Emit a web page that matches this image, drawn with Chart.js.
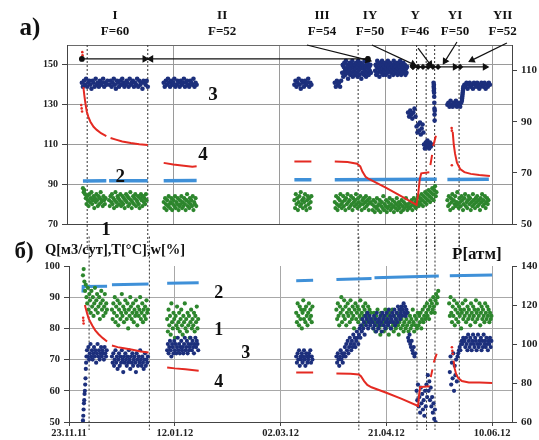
<!DOCTYPE html>
<html><head><meta charset="utf-8">
<script src="https://cdn.jsdelivr.net/npm/chart.js@4.4.0/dist/chart.umd.min.js"></script>
<style>
html,body{margin:0;padding:0;background:#fff;}
#wrap{position:relative;width:539px;height:440px;overflow:hidden;background:#fff;}
canvas{position:absolute;left:0;}
#cTop{top:0;}
#cBot{top:236px;}
</style></head><body>
<div id="wrap"><canvas id="cTop" width="539" height="250"></canvas><canvas id="cBot" width="539" height="204"></canvas></div>
<script>
// ---------- x axis (days since 23.11.11) ----------
const dateTickDays = [0, 50, 100, 150, 200];
const dateLabels = ['23.11.11', '12.01.12', '02.03.12', '21.04.12', '10.06.12'];
const X_MAX = 209.4;
const topLeftTicks = [70, 90, 110, 130, 150, 160];
const topRightTicks = [50, 70, 90, 110, 120];
const botLeftTicks = [50, 60, 70, 80, 90, 100];
const botRightTicks = [60, 80, 100, 120, 140];
const phaseRoman = ['I', 'II', 'III', 'IY', 'Y', 'YI', 'YII'];
const phaseF = ['F=60', 'F=52', 'F=54', 'F=50', 'F=46', 'F=50', 'F=52'];
const phaseLabelDays = [22.6, 73, 120, 142.6, 163.8, 182.6, 205];
const dividerDays = [9.5, 38, 137, 164.5, 169, 173, 184.5];

// ---------- arrows of the phases (top panel, left axis) ----------
const spanRowVals = [153, 149];
const spanRow1 = [[7, 36.6], [39.5, 141.6]];
const spanRow2 = [[162.8, 182.6], [185, 196.7]];
const spanRow2Marks = [162.8, 165.2, 167.5, 169.9, 172.2, 174.6];
const pointerFromDays = [112.9, 143.5, 165.2, 183.5, 207];
const pointerFromVals = [160, 160, 158.4, 161.5, 161];
const pointerToDays = [141.6, 162.8, 170.8, 177.9, 190.6];
const pointerToVals = [152.4, 150.4, 150.4, 151.9, 152.4];

// ---------- top panel a) ----------
const topGreenSegs = [
 [7.5, 1/3, [88,86,87,85,83,80,84,82,79,85,81,83,86,80,82,84,78,83,81,85,82,79,84,80,83,86,81,82,79,84,82,80,83]],
 [19.8, 1/3, [82,79,84,81,85,80,83,78,82,86,81,79,84,83,80,82,85,79,81,84,80,83,78,82,85,81,84,79,83,80,86,82,78,81,84,80,83,85,79,82,81,84,80,78,83,85,82,79,84,81,83,80,85,82]],
 [45.5, 1/3, [81,78,83,80,77,82,79,84,80,78,81,83,77,80,82,79,84,78,81,80,83,77,79,82,80,84,78,81,79,83,80,77,82,85,79,81,78,83,80,82,79,84,77,81,80,83,79]],
 [107, 1/3, [82,78,85,80,83,77,81,84,79,86,80,82,78,83,81,85,79,77,82,84,80,83,78,81,84]],
 [126, 1/3, [81,78,84,80,77,83,79,82,85,80,78,81,84,79,82,77,83,80,85,81,78,82,79,84,80,77,83,81,79,82,85,80,78,83,81,79,84,80,77,82,80,83,78,81,84,79,82,80,77,83,81]],
 [143.5, 1/3, [80,77,82,79,76,81,78,83,79,77,80,82,76,79,81,78,84,77,80,79,82,76,78,81,79,83,77,80,78,82,79,76,81,78,80,83,77,79,81,78,80,76,82,79,77,81,78,80,83,79,77,80,78]],
 [161.2, 1/3, [78,81,79,82,77,80,83,79,81,78,82,80,84,79,81,83,80,85,82,79,84,81,86,83,80,85,82,87,84,81,86,83,88,85,82,87,89,84,86]],
 [179, 1/3, [82,79,84,80,77,83,81,85,78,82,80,84,79,81,86,80,78,83,81,79,84,82,77,80,83,85,79,81,78,82,84,80,83,77,81,79,85,82,80,78,83,81,84,79,82,80,77,83,81,85,79,82,80,84,78,81,83,80,82]]
];
const topNavySegs = [
 [7, 0.5, [141,139,142,140,143,139,141,142,140,138,142,141,139,143,140,141,139,142,140,141,143,139,141,140,142]],
 [20, 0.5, [140,142,139,141,143,140,138,142,141,139,142,140,143,141,139,140,142,141,139,143,140,141,142,139,141,140,143,139,142,140,141,138,142,141,140,142,139]],
 [45.5, 0.5, [141,139,142,140,143,141,139,142,140,141,143,139,140,142,141,139,142,140,141,143,139,141,142,140,139,142,141,140,143,139,141,140]],
 [107, 0.5, [140,142,139,141,143,140,138,142,141,139,142,140,141,143,139,141,140]],
 [126, 0.5, [141,139,142,140,141,139,142]],
 [129.5, 0.25, [146,150,144,149,151,147,145,152,148,146,150,143,149,147,151,145,148,150,146,152,144,149,147,150,145,148,151,146,149,144,152,147,150,145,148,151,143,149,146,150,148,145,152,147,149,144,150,146,151,148,145,149,147,150,146]],
 [145, 0.25, [147,150,145,149,152,146,148,151,144,149,147,150,146,152,148,145,150,147,149,151,145,148,150,146,152,147,149,144,151,148,146,150,147,149,145,152,148,150,146,149,147,151,145,148,150,146,149,152,147,145,150,148,146,151,149,147,150,145,148,146,149]],
 [160.5, 0.5, [126,124,127,125,123,126,128,124]],
 [164.5, 0.4, [119,116,120,117,121,115,118,120,116]],
 [168, 0.4, [110,108,111,109,112,110,108,111,109,110]],
 [172.5, 0.05, [141,139,137,140,138,136,134,131,128,125,122,127]],
 [179, 0.5, [130,131,129,132,130,129,131,130,132,129,131,130,129,131]],
 [185.8, 0.1, [132,133,134,135,136,137,138,139]],
 [187, 0.5, [140,139,141,138,140,141,139,140,138,141,140,139,141,140,138,139,141,140,139,141,138,140,139,141,140]]
];
const topBlueDays = [7.5,18.5,19.2,19.8,38,42,45.5,61,84,107,115,120,126,174,176,179,198.5];
const topBlueVals = [91.6,91.7,null,91.7,91.8,null,91.8,91.9,null,92.2,92.2,null,92.3,92.5,null,92.4,92.5];
const topRedDays = [7.7,8.2,8.7,9.3,10,11,12.5,14,16,18.5,19.3,20.5,23,26,30,34,38,42,45.5,50,55,59,61,84,107,115,120,126,132,136.5,138,139,140.5,142,150,157,164.5,165.3,166,166.7,170.5,170.8,171,171.8,172.1,172.3,173.6,177,181.5,182,182.6,183.5,185,187,190,194,199];
const topRedVals = [103.5,100,97,94,92,90,88,86.8,85.5,84.4,null,83.6,83,82.3,81.7,81.2,80.9,null,73.9,73.3,72.8,72.4,72.6,null,74.4,74.4,null,74.4,74.2,73.6,72.5,70.5,68.5,67.6,64.2,61,57.5,62,67.5,69.8,70.2,null,73,77,null,80.5,84.5,null,86,81,77.5,74,71.5,70.3,69.6,69.2,68.8];
const topRedDotDays = [6.7,6.9,7.1,7.2,7.3,181,181.1,181.1];
const topRedDotVals = [96.5,95.2,94,117.2,116,87.5,86.5,73];
const topTagText = ['1', '2', '3', '4'];
const topTagDays = [18.4, 25, 68.7, 64];
const topTagVals = [67, 93.6, 134.8, 104.7];

// ---------- bottom panel б) ----------
const botGreenSegs = [
 [6.6, 1/3, [97,99,95,92,94,90,88,93,86,91,89,85,92,87,90,84,88,93,86,89,91,85,87,90,83,88,92,86,89,84,87,91,85,88,86]],
 [20.3, 1/3, [86,83,88,85,90,82,87,84,89,81,86,88,83,85,91,84,87,82,86,89,85,83,88,80,86,84,90,87,83,85,88,82,86,84,89,85,81,87,84,86,90,83,85,88,82,86,84,87,83,89,85,86]],
 [46.4, 1/3, [83,79,86,81,84,78,88,82,80,85,83,77,84,81,87,80,82,85,79,83,86,81,78,84,82,88,80,83,79,85,81,84,77,82,86,80,83,81,85,79,84,82,87,80,83]],
 [107.4, 1/3, [85,82,88,84,81,87,83,86,80,85,89,83,86,82,87,84,81,85,88,83,86,84,82,87]],
 [126.4, 1/3, [86,83,88,84,81,87,85,90,82,86,84,89,83,87,81,85,88,84,86,82,89,85,83,87,84,80,86,88,83,85,87,82,86,84,89,83,85,81,87,84,86,88,82,85,83,87,84,86,82,85]],
 [143.5, 1/3, [83,80,85,82,79,84,81,86,82,80,83,78,85,81,84,82,79,83,86,80,82,84,81,78,85,83,80,82,86,81,79,84,82,80,83,85,81,78,82,84,80,83,86,81,79,82,84,80,83,81,85,79,82,84,80,83,81,86,82,79,84,81,83,80,85]],
 [165.2, 1/3, [81,84,82,85,80,83,86,82,84,87,83,85,88,84,86,83,87,89,85,88,86,90,87,85,89,91,88,90,92]],
 [179.7, 1/3, [88,84,90,85,82,87,84,89,81,86,83,88,85,82,87,84,86,80,85,88,83,86,84,89,82,85,87,83,86,84,81,88,85,83,87,84,86,82,89,85,83,86,84,88,81,85,87,83,86,84,82,88,85,83,87,84,86,82,85,83,84]]
];
const botNavySegs = [
 [6.6, 0.15, [50.5,52,54,56,57,59,60,62,64,67,69,71]],
 [8.5, 1/3, [73,71,74,70,72,75,71,73,70,72,74,71,73,69,72,75,71,73,70,72,74,71,73,72,70,74,72,71,73]],
 [20.3, 1/3, [71,69,72,68,70,73,69,71,67,70,72,68,71,69,73,70,66,71,69,72,70,68,71,69,73,70,67,71,69,72,68,70,71,69,66,72,70,68,71,69,73,70,68,71,69,67,70,72,68,70,69,71]],
 [46.4, 1/3, [73,75,72,74,76,73,71,75,74,72,76,73,75,72,74,77,73,75,72,74,76,73,74,72,75,77,73,74,76,72,75,73,74,77,75,73,76,74,72,75,77,74,76,75,73]],
 [107.4, 1/3, [71,69,72,70,73,68,71,70,72,69,71,73,70,68,72,71,69,70,72,71,73,69,71,70]],
 [126.4, 1/3, [71,69,72,70,68,71,73,70,72,69,71,72,74,71,75,73,76,72,74,77,75,73,76,74,78,75,77,74,76,79,77,75,78,80,77,81,79,83,80,82,78,84,81,83,85,80,82,84,81,83]],
 [143.5, 1/3, [82,80,84,81,83,79,85,82,80,83,81,84,82,79,85,83,81,84,80,82,85,83,81,86,82,84,80,83,85,82,84,86,81,83,85,82,87,84,86,83,85,87,84,86,88,85,87,84,86,85]],
 [160.3, 1/3, [77,76,78,75,74,76,73,72,74,71,72]],
 [164.3, 1/3, [60,57,62,55,58,53,61,56,59,54,57,52,60,55,62,58,65,60,63,57,61,55,58,53,56,51,54,50]],
 [180, 1/3, [66,71,62,69,64,72,60,68,65,70,63,71]],
 [184, 1/3, [72,73,74,73,75,76,75,77,76]],
 [187, 1/3, [76,74,77,75,73,78,76,74,77,75,73,76,78,75,74,77,76,73,75,78,74,76,75,77,73,76,74,78,75,76,74,77,75,73,76,75,77,74,76]]
];
const botBlueDays = [6.6,6.7,18,19,20.3,37.6,42,46.4,61.3,84,107.4,115.4,120,126.4,143,143.7,144.4,174.8,177,180,200];
const botBlueVals = [91.5,93.4,93.5,null,94.0,94.2,null,94.5,94.6,null,95.3,95.4,null,95.7,96.0,null,96.2,96.8,null,96.9,97.1];
const botRedDays = [7.5,8.0,8.6,9.3,10,11,12.4,14,16,18,19.2,20.3,23,26,30,34,37.6,42,46.4,50,55,61.3,84,107.4,115.4,120,126.4,133,137,138,139.5,141,143,150,157,165,165.5,166,166.5,170.5,170.8,171,171.8,172.1,172.4,173.8,177,181.8,182.3,183,184,185.7,189,194,200];
const botRedVals = [120,118,115.5,113,111.5,109.5,107,105,103,101.3,null,99.2,98.4,97.8,97,96.2,95.7,null,88,87.5,87,86.3,null,85.4,85.4,null,84.9,84.8,84.4,83.5,81,79,77.8,75,72,68.2,74,78,78,78.3,null,83,87,null,90.5,95,null,91.5,87.5,84.5,82.5,81,80.3,80.2,80];
const botRedDotDays = [6.7,6.8,6.9,181,181.2,181.4];
const botRedDotVals = [113.5,112,110.5,98.3,96.5,95];
const botTagText = ['2', '1', '3', '4'];
const botTagDays = [70.8, 70.8, 83.6, 70.8];
const botTagVals = [91.3, 79.5, 72.1, 62.8];

// ---------- styling ----------
const NAVY = '#1c2f7c', GREEN = '#2d862d', BLUE = '#3f90d8', RED = '#e42a22';
const SERIF = "'Liberation Serif','Times New Roman',serif";
const CLEAR = 'rgba(0,0,0,0)';
Chart.defaults.font.family = SERIF;
Chart.defaults.font.weight = 'bold';
Chart.defaults.color = '#222';

function cloud(segs) {
  const pts = [];
  segs.forEach(([start, step, vals]) => vals.forEach((v, i) => pts.push({x: start + i * step, y: v})));
  return pts;
}
function pairs(days, vals) { return days.map((d, i) => ({x: d, y: vals[i]})); }
function fixedTicks(list) { return s => { s.ticks = list.map(v => ({value: v})); }; }
function isVal(c, v) { return c.tick && Math.abs(c.tick.value - v) < 1e-6; }

function cloudDs(data, color, axis, order, r) {
  return {data, backgroundColor: color, borderWidth: 0, pointRadius: r || 2.1, pointStyle: 'circle', yAxisID: axis, order};
}
function lineDs(data, color, width, axis, order) {
  return {data, showLine: true, borderColor: color, borderWidth: width, pointRadius: 0, yAxisID: axis, order, spanGaps: false};
}
function dividerDs(day, top, bottom, axis) {
  return {data: [{x: day, y: top}, {x: day, y: bottom}], showLine: true, borderColor: '#333', borderWidth: 1,
    borderDash: [2, 2], pointRadius: 0, yAxisID: axis, clip: false, order: 20};
}
function arrowDs(data, styles, radii, rotations) {
  return {data, showLine: true, borderColor: '#111', borderWidth: 1.2, backgroundColor: '#111', pointBorderColor: '#111',
    pointStyle: styles, pointRadius: radii, pointRotation: rotations, yAxisID: 'y', clip: false, order: 0};
}
function pointerRotation(c) {
  const d = c.dataset.data, xs = c.chart.scales.x, ys = c.chart.scales.y;
  const dx = xs.getPixelForValue(d[1].x) - xs.getPixelForValue(d[0].x);
  const dy = ys.getPixelForValue(d[1].y) - ys.getPixelForValue(d[0].y);
  return Math.atan2(dy, dx) * 180 / Math.PI + 90;
}

// ---------- top chart ----------
const topSets = [];
topSets.push(cloudDs(cloud(topGreenSegs), GREEN, 'y', 5));
topSets.push(lineDs(pairs(topBlueDays, topBlueVals), BLUE, 3.5, 'y', 4));
topSets.push(cloudDs(cloud(topNavySegs), NAVY, 'y', 3, 2.3));
topSets.push(lineDs(pairs(topRedDays, topRedVals), RED, 2, 'y2', 2));
topSets.push(cloudDs(pairs(topRedDotDays, topRedDotVals), RED, 'y2', 2, 1.3));
dividerDays.forEach(d => topSets.push(dividerDs(d, 160, 54, 'y')));
topSets.push(arrowDs(spanRow1[0].map(d => ({x: d, y: spanRowVals[0]})), ['circle', 'triangle'], [2.3, 3.3], [0, 90]));
topSets.push(arrowDs(spanRow1[1].map(d => ({x: d, y: spanRowVals[0]})), ['triangle', 'circle'], [3.3, 2.3], [-90, 0]));
topSets.push(arrowDs(spanRow2[0].map(d => ({x: d, y: spanRowVals[1]})), ['rectRot', 'triangle'], [2.2, 3.2], [0, 90]));
topSets.push(arrowDs(spanRow2[1].map(d => ({x: d, y: spanRowVals[1]})), ['rectRot', 'triangle'], [2.2, 3.2], [0, 90]));
topSets.push(Object.assign(arrowDs(spanRow2Marks.map(d => ({x: d, y: spanRowVals[1]})), 'rectRot', 2.2, 0), {showLine: false}));
pointerFromDays.forEach((d, i) => {
  topSets.push(arrowDs([{x: d, y: pointerFromVals[i]}, {x: pointerToDays[i], y: pointerToVals[i]}],
    'triangle', [0, 3.2], pointerRotation));
});

const topTextPlugin = {
  id: 'topText',
  afterDraw(chart) {
    const ctx = chart.ctx, xs = chart.scales.x, ys = chart.scales.y;
    ctx.save();
    ctx.fillStyle = '#111';
    ctx.textAlign = 'center';
    ctx.textBaseline = 'middle';
    ctx.font = 'bold 25px ' + SERIF;
    ctx.fillText('а)', 30, 29);
    ctx.font = 'bold 13px ' + SERIF;
    phaseLabelDays.forEach((d, i) => {
      const x = xs.getPixelForValue(d);
      ctx.fillText(phaseRoman[i], x, 16);
      ctx.fillText(phaseF[i], x, 32);
    });
    ctx.font = 'bold 19px ' + SERIF;
    topTagText.forEach((t, i) => ctx.fillText(t, xs.getPixelForValue(topTagDays[i]), ys.getPixelForValue(topTagVals[i])));
    ctx.restore();
  }
};

new Chart(document.getElementById('cTop'), {
  type: 'scatter',
  data: {datasets: topSets},
  options: {
    responsive: false, animation: false, events: [], devicePixelRatio: 1,
    layout: {padding: {top: 45, left: 0, right: 0, bottom: 0}, autoPadding: false},
    plugins: {legend: {display: false}, tooltip: {enabled: false}},
    scales: {
      x: {type: 'linear', min: 0, max: X_MAX, afterBuildTicks: fixedTicks(dateTickDays.concat([X_MAX])),
        ticks: {display: false},
        grid: {color: c => (isVal(c, 0) || isVal(c, X_MAX) ? CLEAR : '#9a9a9a'), drawTicks: false},
        border: {display: true, color: '#444'},
        afterFit: s => { s.height = 26; }},
      y: {type: 'linear', position: 'left', min: 70, max: 160, afterBuildTicks: fixedTicks(topLeftTicks),
        ticks: {padding: 4, font: {size: 10, weight: 'bold'}, callback: v => (v === 160 ? '' : v)},
        grid: {color: c => (isVal(c, 160) ? '#6a6a6a' : isVal(c, 70) ? CLEAR : '#9a9a9a'), tickLength: 5,
          tickColor: c => (isVal(c, 160) ? CLEAR : '#444')},
        border: {display: true, color: '#444'},
        afterFit: s => { s.width = 67; }},
      y2: {type: 'linear', position: 'right', min: 50, max: 120, afterBuildTicks: fixedTicks(topRightTicks),
        ticks: {padding: 4, font: {size: 11, weight: 'bold'}, callback: v => (v === 120 ? '' : v)},
        grid: {drawOnChartArea: false, tickLength: 5, tickColor: c => (isVal(c, 120) ? CLEAR : '#444')},
        border: {display: true, color: '#444'},
        afterFit: s => { s.width = 27; }}
    }
  },
  plugins: [topTextPlugin]
});

// ---------- bottom chart ----------
const botSets = [];
botSets.push(lineDs(pairs(botBlueDays, botBlueVals), BLUE, 3, 'y', 5));
botSets.push(cloudDs(cloud(botGreenSegs), GREEN, 'y', 4));
botSets.push(cloudDs(cloud(botNavySegs), NAVY, 'y', 3));
botSets.push(lineDs(pairs(botRedDays, botRedVals), RED, 2, 'y2', 2));
botSets.push(cloudDs(pairs(botRedDotDays, botRedDotVals), RED, 'y2', 2, 1.3));
dividerDays.forEach(d => botSets.push(dividerDs(d, 112, 47.4, 'y')));

const botTextPlugin = {
  id: 'botText',
  afterDraw(chart) {
    const ctx = chart.ctx, xs = chart.scales.x, ys = chart.scales.y;
    ctx.save();
    ctx.fillStyle = '#111';
    ctx.textBaseline = 'middle';
    ctx.textAlign = 'center';
    ctx.font = 'bold 23px ' + SERIF;
    ctx.fillText('б)', 24, 16);
    ctx.textAlign = 'left';
    ctx.font = 'bold 14.5px ' + SERIF;
    ctx.fillText('Q[м3/сут],T[°C],w[%]', 45, 14);
    ctx.font = 'bold 17px ' + SERIF;
    ctx.fillText('P[атм]', 452, 19);
    ctx.textAlign = 'center';
    ctx.font = 'bold 18px ' + SERIF;
    botTagText.forEach((t, i) => ctx.fillText(t, xs.getPixelForValue(botTagDays[i]), ys.getPixelForValue(botTagVals[i])));
    ctx.restore();
  }
};

new Chart(document.getElementById('cBot'), {
  type: 'scatter',
  data: {datasets: botSets},
  options: {
    responsive: false, animation: false, events: [], devicePixelRatio: 1,
    layout: {padding: {top: 30, left: 0, right: 0, bottom: 0}, autoPadding: false},
    plugins: {legend: {display: false}, tooltip: {enabled: false}},
    scales: {
      x: {type: 'linear', min: 0, max: X_MAX, afterBuildTicks: fixedTicks(dateTickDays.concat([X_MAX])),
        ticks: {padding: 1, maxRotation: 0, autoSkip: false, font: {size: 10.5, weight: 'bold'},
          callback: v => { const i = dateTickDays.indexOf(v); return i >= 0 ? dateLabels[i] : ''; }},
        grid: {color: c => (isVal(c, 0) || isVal(c, X_MAX) ? CLEAR : '#a8a8a8'), tickLength: 4,
          tickColor: c => (isVal(c, X_MAX) ? CLEAR : '#444')},
        border: {display: true, color: '#444'},
        afterFit: s => { s.height = 18; }},
      y: {type: 'linear', position: 'left', min: 50, max: 100, afterBuildTicks: fixedTicks(botLeftTicks),
        ticks: {padding: 4, font: {size: 10.5, weight: 'bold'}},
        grid: {color: c => (isVal(c, 50) || isVal(c, 100) ? CLEAR : '#a8a8a8'), tickLength: 5, tickColor: '#444'},
        border: {display: true, color: '#444'},
        afterFit: s => { s.width = 69; }},
      y2: {type: 'linear', position: 'right', min: 60, max: 140, afterBuildTicks: fixedTicks(botRightTicks),
        ticks: {padding: 4, font: {size: 11, weight: 'bold'}},
        grid: {drawOnChartArea: false, tickLength: 5, tickColor: '#444'},
        border: {display: true, color: '#444'},
        afterFit: s => { s.width = 27; }}
    }
  },
  plugins: [botTextPlugin]
});
</script>
</body></html>
